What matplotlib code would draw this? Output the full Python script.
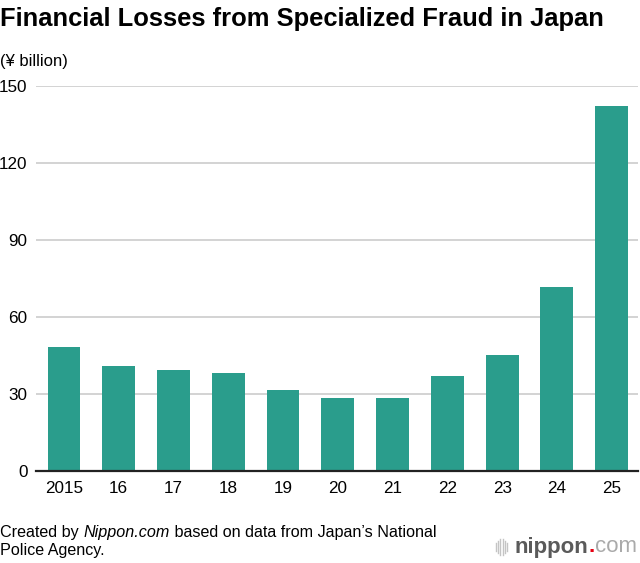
import matplotlib
matplotlib.use("Agg")
import matplotlib.pyplot as plt
from matplotlib.lines import Line2D

years = ["2015", "16", "17", "18", "19", "20", "21", "22", "23", "24", "25"]
losses = [48.1, 40.7, 39.4, 38.2, 31.5, 28.5, 28.2, 37.0, 45.1, 71.6, 142.2]
yticks = [0, 30, 60, 90, 120, 150]

BAR = "#2a9d8c"
FONT = "Liberation Sans"
plt.rcParams["font.family"] = [FONT, "DejaVu Sans"]

W, H = 640, 563
fig = plt.figure(figsize=(W / 100, H / 100), dpi=100)
ax = fig.add_axes([36 / W, 1 - 470.7 / H, (638 - 36) / W, (470.7 - 86) / H])

x = list(range(len(years)))
ax.bar(x, losses, width=0.6, color=BAR, zorder=3)
ax.set_xlim(-0.51, len(years) - 1 + 0.48)
ax.set_ylim(0, 150)
ax.set_yticks(yticks)
ax.set_yticklabels([str(v) for v in yticks], fontsize=12.3)
ax.set_xticks(x)
ax.set_xticklabels(years, fontsize=12.3)
ax.tick_params(axis="both", length=0, colors="black")
ax.tick_params(axis="y", pad=6)
ax.tick_params(axis="x", pad=7.5)
ax.grid(axis="y", color="#cccccc", linewidth=1.2, zorder=0)
for s in ["top", "right", "left"]:
    ax.spines[s].set_visible(False)
ax.spines["bottom"].set_color("#222222")
ax.spines["bottom"].set_linewidth(1.6)
ax.spines["bottom"].set_zorder(4)

# Title and unit
fig.text(0 / W, 1 - 26 / H, "Financial Losses from Specialized Fraud in Japan",
         fontsize=18.4, fontweight="bold", ha="left", va="baseline")
fig.text(0 / W, 1 - 61.5 / H, "(¥ billion)", fontsize=12, ha="left", va="center")

# Footer with italic part
fig.canvas.draw()
r = fig.canvas.get_renderer()
y1 = 1 - 533 / H
xpos = 0.0
parts = [("Created by ", "normal"), ("Nippon.com", "italic"),
         (" based on data from Japan’s National", "normal")]
for txt, style in parts:
    t = fig.text(xpos, y1, txt, fontsize=11.6, style=style, ha="left", va="center")
    bb = t.get_window_extent(renderer=r)
    xpos += bb.width / W
fig.text(0, 1 - 550 / H, "Police Agency.", fontsize=11.6, ha="left", va="center")

# Logo
ly = 1 - 547 / H
lx = 637 / W
t3 = fig.text(lx, ly, "com", fontsize=16, color="#aaaaaa", ha="right", va="center")
bb = t3.get_window_extent(renderer=r)
lx -= bb.width / W
t2 = fig.text(lx, ly, ".", fontsize=16, color="#e60012", fontweight="bold", ha="right", va="center")
bb = t2.get_window_extent(renderer=r)
lx -= bb.width / W
t1 = fig.text(lx, ly, "nippon", fontsize=16, color="#5a5a5a", fontweight="bold", ha="right", va="center")
bb = t1.get_window_extent(renderer=r)
lx -= bb.width / W
# bar icon
heights = [8, 12, 16, 16, 12, 8]
cx = lx * W - 8
for i, h in enumerate(heights[::-1]):
    xx = cx - i * 2.2
    fig.add_artist(Line2D([xx / W, xx / W], [ly - h / 2 / H, ly + h / 2 / H],
                          color="#c4c4c4", linewidth=1.0))

fig.savefig("out.png", dpi=100)
